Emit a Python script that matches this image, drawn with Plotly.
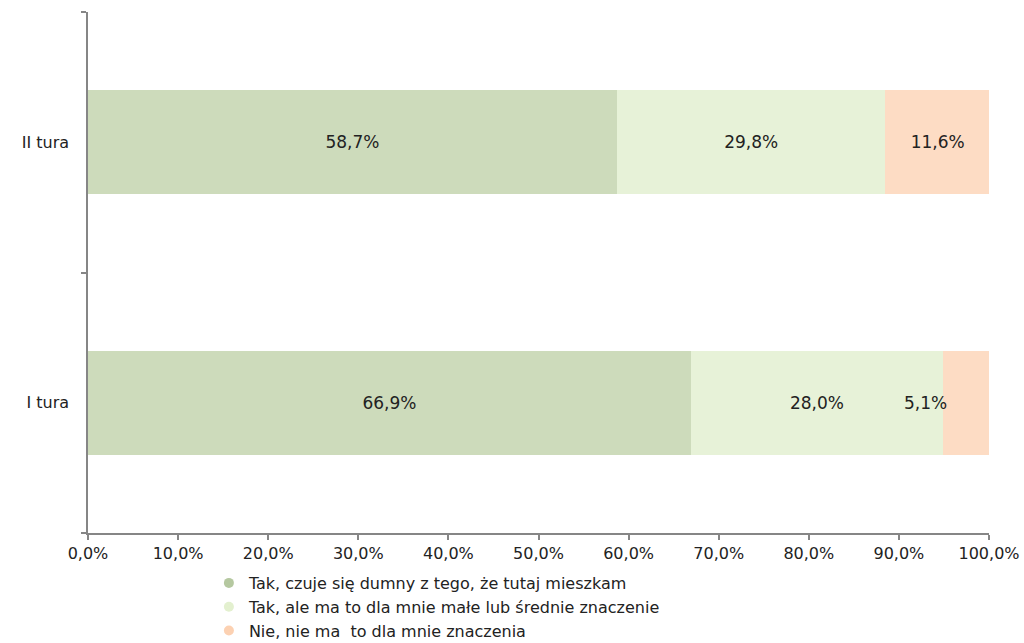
import plotly.graph_objects as go

categories = ["I tura", "II tura"]
series_names = [
    "Tak, czuje się dumny z tego, że tutaj mieszkam",
    "Tak, ale ma to dla mnie małe lub średnie znaczenie",
    "Nie, nie ma  to dla mnie znaczenia",
]
values_proud = [66.9, 58.7]
values_small = [28.0, 29.8]
values_none = [5.1, 11.6]
tick_values = [0, 10, 20, 30, 40, 50, 60, 70, 80, 90, 100]
tick_labels = [f"{v:.1f}%".replace(".", ",") for v in tick_values]

colors = ["#cddbbb", "#e7f2d8", "#fddcc4"]
legend_colors = ["#b5c8a0", "#e3f0cf", "#fcd1b2"]

FONT = "DejaVu Sans"
TXT = "#222222"
fig = go.Figure()

series = [values_proud, values_small, values_none]
for i, (name, vals) in enumerate(zip(series_names, series)):
    textpos = ["none", "inside"] if i == 2 else "inside"
    fig.add_trace(go.Bar(
        y=categories, x=vals, orientation="h", name=name,
        marker=dict(color=colors[i], line=dict(width=0)),
        texttemplate="%{x:.1f}%", textposition=textpos,
        insidetextanchor="middle", constraintext="none",
        textfont=dict(family=FONT, size=17, color=TXT),
        showlegend=False, hoverinfo="skip",
    ))

# label for the narrow last segment of "I tura", placed just left of its start
start_last = values_proud[0] + values_small[0]
fig.add_annotation(
    x=start_last, y=categories[0], xref="x", yref="y",
    text=f"{values_none[0]:.1f}%".replace(".", ","), showarrow=False,
    xanchor="right", xshift=6,
    font=dict(family=FONT, size=17, color=TXT),
)

# legend proxies with round markers
for i, name in enumerate(series_names):
    fig.add_trace(go.Scatter(
        x=[None], y=[None], mode="markers", name=name,
        marker=dict(symbol="circle", size=10, color=legend_colors[i]),
        showlegend=True,
    ))

fig.update_layout(
    width=1024, height=643,
    margin=dict(l=88, r=35, t=12, b=110, autoexpand=False),
    barmode="stack", bargap=0.6,
    separators=", ",
    paper_bgcolor="white", plot_bgcolor="white",
    font=dict(family=FONT, size=16, color=TXT),
    legend=dict(
        xref="container", yref="container",
        x=0.204, xanchor="left", y=1 - 566 / 643, yanchor="top",
        orientation="v", traceorder="normal",
        font=dict(family=FONT, size=16, color=TXT),
        tracegroupgap=0, itemwidth=30, bgcolor="rgba(0,0,0,0)",
    ),
    xaxis=dict(
        range=[0, 100], tickvals=tick_values, ticktext=tick_labels,
        showgrid=False, zeroline=False,
        showline=True, linecolor="#868686", linewidth=1.5,
        ticks="outside", ticklen=5, tickcolor="#868686", tickwidth=1.5,
        tickfont=dict(family=FONT, size=16, color=TXT),
        fixedrange=True,
    ),
    yaxis=dict(
        categoryorder="array", categoryarray=categories,
        range=[-0.5, 1.5],
        showgrid=False, zeroline=False,
        showline=True, linecolor="#868686", linewidth=1.5,
        ticks="outside", ticklen=5, tickcolor="#868686", tickwidth=1.5,
        tickson="boundaries",
        tickfont=dict(family=FONT, size=16, color=TXT),
        ticklabelstandoff=14,
        fixedrange=True,
    ),
)

fig.write_html("out.html", config={"displayModeBar": False},
               post_script="document.body.style.margin='0';")
